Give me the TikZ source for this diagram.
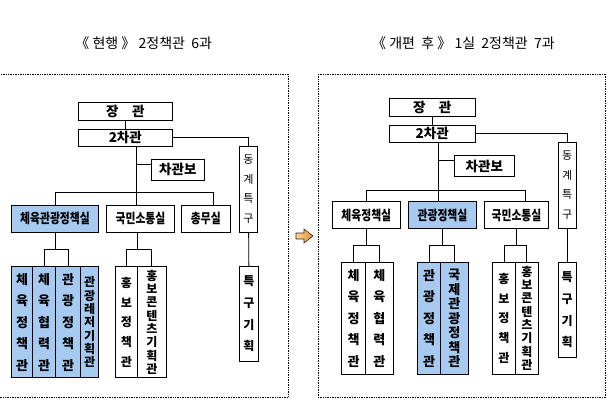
\documentclass[tikz,border=0pt]{standalone}
\usepackage{fontspec}
\setmainfont{Noto Sans CJK KR}
\definecolor{deptblue}{RGB}{166,202,240}
\definecolor{arrowlight}{RGB}{250,214,140}
\definecolor{arrowdark}{RGB}{226,142,62}
\newcommand{\squeezed}[1]{\scalebox{0.8}[1]{#1}}
\tikzset{
  box/.style={draw, line width=0.9pt, inner sep=0pt, align=center,
    font=\bfseries\fontsize{13.5}{15}\selectfont},
  sz/.style 2 args={minimum width=#1, minimum height=#2},
  wide/.style={box, font=\bfseries\fontsize{13}{21.5}\selectfont},
  tight/.style={box, font=\bfseries\fontsize{12}{13.3}\selectfont},
  plain/.style={box, font=\bfseries\fontsize{12}{19.8}\selectfont},
  hilite/.style={fill=deptblue},
  frame/.style={densely dotted, line width=0.7pt},
  link/.style={line width=0.9pt},
  title/.style={font=\fontsize{14}{16}\selectfont}
}
\begin{document}
\begin{tikzpicture}[x=1pt, y=-1pt]
    \useasboundingbox (0,0) rectangle (612,407);
    \pgfmathsetmacro{\ytitle}{43}
    \pgfmathsetmacro{\ylowL}{322.2}
    \pgfmathsetmacro{\hlowL}{111}
    \pgfmathsetmacro{\ylowR}{318.3}
    \pgfmathsetmacro{\hlowR}{112}

    % titles and frames
    \node[title] (titleL) at (143.7, \ytitle)
         {《 현행 》 2정책관 \ 6과};
    \node[title] (titleR) at (463.5, \ytitle)
         {《 개편 \ 후 》 1실 \ 2정책관 \ 7과};
    \draw[frame] (-2, 74) rectangle (288, 397);
    \draw[frame] (318.7, 74) rectangle (605.3, 397.7);
    \shadedraw[left color=arrowlight, right color=arrowdark,
      draw=black!70!brown, line width=0.6pt]
      (296, 233) -- (304, 233) -- (304, 229) -- (313, 236) --
      (304, 243) -- (304, 239) -- (296, 239) -- cycle;

    % present organisation
    \node[box, sz={94}{18}] (jangL) at (125.3, 111.3) {장\quad 관};
    \node[box, sz={94}{16.7}] (cha2L) at (125.3, 137.7) {2차관};
    \node[box, sz={52.3}{21.3}] (boL) at (177.8, 169.7) {차관보};
    \node[box, hilite, sz={86.6}{27.3}] (sportL) at (55, 218.7)
         {\squeezed{체육관광정책실}};
    \node[box, sz={67.6}{27.3}] (commL) at (140.5, 218.7)
         {\squeezed{국민소통실}};
    \node[box, sz={48.3}{27.3}] (genL) at (205.8, 218.7)
         {\squeezed{총무실}};
    \node[box, sz={18.4}{86.7}, font=\fontsize{11}{19.5}\selectfont]
         (dongL) at (248.5, 189.3) {동\\계\\특\\구};
    \node[wide, sz={19.4}{94.3}, font=\bfseries\fontsize{12}{21.7}\selectfont]
         (specL) at (249, 313.8) {특\\구\\기\\획};
    \node[wide, hilite, sz={20.6}{\hlowL}] (b1L) at (22, \ylowL)
         {체\\육\\정\\책\\관};
    \node[wide, hilite, sz={23.4}{\hlowL}] (b2L) at (44, \ylowL)
         {체\\육\\협\\력\\관};
    \node[wide, hilite, sz={25}{\hlowL}] (b3L) at (68.2, \ylowL)
         {관\\광\\정\\책\\관};
    \node[tight, hilite, sz={18}{\hlowL}] (b4L) at (89.7, \ylowL)
         {관\\광\\레\\저\\기\\획\\관};
    \node[plain, sz={22}{\hlowL}] (w1L) at (126.3, \ylowL)
         {홍\\보\\정\\책\\관};
    \node[tight, sz={29}{\hlowL}] (w2L) at (151.8, \ylowL)
         {홍\\보\\콘\\텐\\츠\\기\\획\\관};

    \coordinate (busL) at (0, 192.7);
    \coordinate (lowbusL) at (0, 249.3);
    \coordinate (genLdrop) at ([xshift=7.5pt]genL.north);
    \draw[link] (jangL) -- (cha2L);
    \draw[link] (cha2L.east) -| (dongL.north);
    \draw[link] ([xshift=11.4pt]cha2L.south) -- ([xshift=-3.8pt]commL.north);
    \draw[link] ([yshift=5.4pt]boL.west) -- ++(-15, 0);
    \draw[link] (sportL.north) |- (busL -| genLdrop) -- (genLdrop);
    \draw[link] (dongL) -- (specL);
    \draw[link] (sportL.south) -- (sportL.south |- lowbusL);
    \draw[link] (b2L.north) |- (lowbusL -| b3L) -- (b3L.north);
    \draw[link] ([xshift=-3.2pt]commL.south) -- ([xshift=-3.2pt]commL.south |- lowbusL);
    \draw[link] (w1L.north) |- (lowbusL -| w2L) -- (w2L.north);

    % reorganised
    \node[box, sz={85.7}{18.4}] (jangR) at (432.2, 107.5) {장\quad 관};
    \node[box, sz={85.7}{17}] (cha2R) at (432.2, 133.8) {2차관};
    \node[box, sz={60}{21}] (boR) at (484.3, 166.2) {차관보};
    \node[box, sz={67.3}{26.6}] (sportR) at (366.3, 215)
         {\squeezed{체육정책실}};
    \node[box, hilite, sz={68.4}{26.6}] (tourR) at (442.5, 215)
         {\squeezed{관광정책실}};
    \node[box, sz={64.4}{26.6}] (commR) at (516.5, 215)
         {\squeezed{국민소통실}};
    \node[box, sz={17.7}{86}, font=\fontsize{11}{19.5}\selectfont]
         (dongR) at (567.2, 185.3) {동\\계\\특\\구};
    \node[wide, sz={17.7}{95}, font=\bfseries\fontsize{12}{21.7}\selectfont]
         (specR) at (567.2, 309.8) {특\\구\\기\\획};
    \node[wide, sz={23.6}{\hlowR}] (r1R) at (353.5, \ylowR)
         {체\\육\\정\\책\\관};
    \node[wide, sz={28}{\hlowR}] (r2R) at (379.3, \ylowR)
         {체\\육\\협\\력\\관};
    \node[wide, hilite, sz={22.6}{\hlowR}] (r3R) at (429, \ylowR)
         {관\\광\\정\\책\\관};
    \node[tight, hilite, sz={28}{\hlowR}, font=\bfseries\fontsize{13}{14.5}\selectfont]
         (r4R) at (454.3, \ylowR) {국\\제\\관\\광\\정\\책\\관};
    \node[plain, sz={22.6}{\hlowR}] (r5R) at (504, \ylowR)
         {홍\\보\\정\\책\\관};
    \node[tight, sz={23}{\hlowR}] (r6R) at (526.8, \ylowR)
         {홍\\보\\콘\\텐\\츠\\기\\획\\관};

    \coordinate (busR) at (0, 190);
    \coordinate (lowbusR) at (0, 245.7);
    \coordinate (commRdrop) at ([xshift=8.8pt]commR.north);
    \draw[link] (jangR) -- (cha2R);
    \draw[link] (cha2R.east) -| (dongR.north);
    \draw[link] ([xshift=6.1pt]cha2R.south) -- ([xshift=-4.2pt]tourR.north);
    \draw[link] ([yshift=6.2pt]boR.west) -- ++(-16, 0);
    \draw[link] (sportR.north) |- (busR -| commRdrop) -- (commRdrop);
    \draw[link] (dongR) -- (specR);
    \draw[link] (sportR.south) -- (sportR.south |- lowbusR);
    \draw[link] (tourR.south) -- (tourR.south |- lowbusR);
    \draw[link] (commR.south) -- (commR.south |- lowbusR);
    \draw[link] (r1R.north) |- (lowbusR -| r2R) -- (r2R.north);
    \draw[link] (r3R.north) |- (lowbusR -| r4R) -- (r4R.north);
    \draw[link] (r5R.north) |- (lowbusR -| r6R) -- (r6R.north);
  \end{tikzpicture}
\end{document}
